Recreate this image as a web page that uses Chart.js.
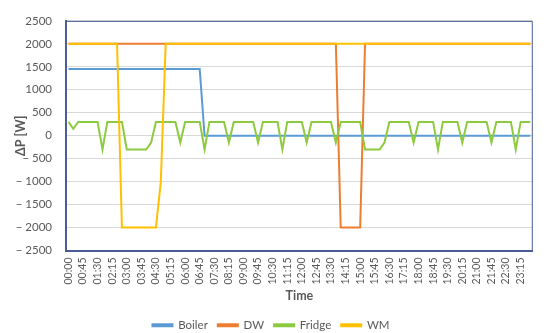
<!DOCTYPE html>
<html>
<head>
<meta charset="utf-8">
<script src="https://cdn.jsdelivr.net/npm/chart.js@4"></script>
<style>
html,body{margin:0;padding:0;background:#fff;}
</style>
</head>
<body>
<canvas id="myChart" width="550" height="333"></canvas>
<script>
// horas cada 15 minutos (96 categorias)
const horas = [];
for (let h = 0; h < 24; h++) {
    for (let m = 0; m < 60; m += 15) {
        horas.push(String(h).padStart(2, '0') + ':' + String(m).padStart(2, '0'));
    }
}

const yTicks = [-2500, -2000, -1500, -1000, -500, 0, 500, 1000, 1500, 2000, 2500];

const boiler = [
    1450,1450,1450,1450,1450,1450,1450,1450,1450,1450,1450,1450,1450,1450,1450,1450,
    1450,1450,1450,1450,1450,1450,1450,1450,1450,1450,1450,1450,0,0,0,0,
    0,0,0,0,0,0,0,0,0,0,0,0,0,0,0,0,
    0,0,0,0,0,0,0,0,0,0,0,0,0,0,0,0,
    0,0,0,0,0,0,0,0,0,0,0,0,0,0,0,0,
    0,0,0,0,0,0,0,0,0,0,0,0,0,0,0,0
];

const dw = [
    2000,2000,2000,2000,2000,2000,2000,2000,2000,2000,2000,2000,2000,2000,2000,2000,
    2000,2000,2000,2000,2000,2000,2000,2000,2000,2000,2000,2000,2000,2000,2000,2000,
    2000,2000,2000,2000,2000,2000,2000,2000,2000,2000,2000,2000,2000,2000,2000,2000,
    2000,2000,2000,2000,2000,2000,2000,2000,-2000,-2000,-2000,-2000,-2000,2000,2000,2000,
    2000,2000,2000,2000,2000,2000,2000,2000,2000,2000,2000,2000,2000,2000,2000,2000,
    2000,2000,2000,2000,2000,2000,2000,2000,2000,2000,2000,2000,2000,2000,2000,2000
];

const fridge = [
    300,150,300,300,300,300,300,-300,300,300,300,300,-300,-300,-300,-300,
    -300,-150,300,300,300,300,300,-150,300,300,300,300,-300,300,300,300,
    300,-150,300,300,300,300,300,-150,300,300,300,300,-300,300,300,300,
    300,-150,300,300,300,300,300,-150,300,300,300,300,300,-300,-300,-300,
    -300,-150,300,300,300,300,300,-150,300,300,300,300,-300,300,300,300,
    300,-150,300,300,300,300,300,-150,300,300,300,300,-300,300,300,300
];

const wm = [
    2000,2000,2000,2000,2000,2000,2000,2000,2000,2000,2000,-2000,-2000,-2000,-2000,-2000,
    -2000,-2000,-2000,-1000,2000,2000,2000,2000,2000,2000,2000,2000,2000,2000,2000,2000,
    2000,2000,2000,2000,2000,2000,2000,2000,2000,2000,2000,2000,2000,2000,2000,2000,
    2000,2000,2000,2000,2000,2000,2000,2000,2000,2000,2000,2000,2000,2000,2000,2000,
    2000,2000,2000,2000,2000,2000,2000,2000,2000,2000,2000,2000,2000,2000,2000,2000,
    2000,2000,2000,2000,2000,2000,2000,2000,2000,2000,2000,2000,2000,2000,2000,2000
];

const gris = '#595959';
const bordeColor = '#4a5d94';
Chart.defaults.font.family = 'Lato, "Open Sans", sans-serif';
Chart.defaults.color = gris;

// marco superior y derecho del area del grafico
const marco = {
    id: 'marco',
    beforeDatasetsDraw(chart) {
        const {ctx, chartArea: a} = chart;
        ctx.save();
        ctx.strokeStyle = bordeColor;
        ctx.lineWidth = 1;
        ctx.beginPath();
        ctx.moveTo(a.left, a.top + 0.5);
        ctx.lineTo(a.right - 0.5, a.top + 0.5);
        ctx.lineTo(a.right - 0.5, a.bottom);
        ctx.stroke();
        ctx.restore();
    }
};

const serie = (label, data, color, order) => ({
    label: label,
    data: data,
    borderColor: color,
    backgroundColor: color,
    borderWidth: 2,
    pointRadius: 0,
    tension: 0,
    order: order
});

const ctx = document.getElementById('myChart');
new Chart(ctx, {
    type: 'line',
    data: {
        labels: horas,
        datasets: [
            serie('Boiler', boiler, '#5B9BD5', 4),
            serie('DW', dw, '#ED7D31', 3),
            serie('Fridge', fridge, '#8CCB3F', 2),
            serie('WM', wm, '#FFC000', 1)
        ]
    },
    options: {
        responsive: false,
        animation: false,
        layout: {padding: {top: 18, right: 8, left: 0, bottom: -8}},
        plugins: {
            tooltip: {enabled: false},
            legend: {
                position: 'bottom',
                labels: {
                    boxWidth: 20,
                    boxHeight: 2,
                    padding: 10,
                    font: {size: 11.5},
                    sort: (a, b) => a.datasetIndex - b.datasetIndex
                }
            }
        },
        scales: {
            x: {
                offset: true,
                grid: {display: false, drawTicks: false},
                border: {color: bordeColor, width: 2},
                ticks: {
                    autoSkip: false,
                    maxRotation: 90,
                    minRotation: 90,
                    padding: 7,
                    font: {size: 10.5},
                    callback: (v, i) => i % 3 === 0 ? horas[i] : ''
                },
                title: {display: true, text: 'Time', font: {size: 12.5, weight: 'bold'}, padding: {top: 0, bottom: 6}},
                afterFit: (s) => { s.height = 59; }
            },
            y: {
                min: -2500,
                max: 2500,
                afterBuildTicks: (s) => { s.ticks = yTicks.map(v => ({value: v})); },
                grid: {color: '#d9d9d9', drawTicks: false},
                border: {color: bordeColor, width: 2},
                ticks: {
                    padding: 14,
                    font: {size: 11.5},
                    callback: (v) => v < 0 ? '\u2212 ' + Math.abs(v) : String(v)
                },
                title: {display: true, text: 'ΔP [W]', font: {size: 12.5, weight: 'bold'}, padding: {top: 13, bottom: 0}},
                afterFit: (s) => { s.width = 66; }
            }
        }
    },
    plugins: [marco]
});
</script>
</body>
</html>
